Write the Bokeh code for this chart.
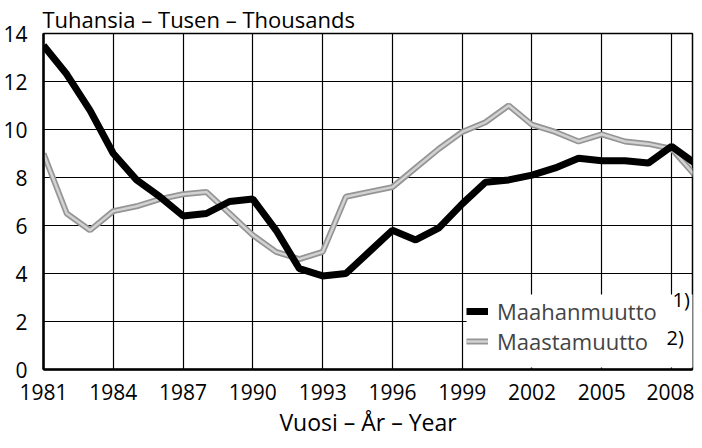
from bokeh.plotting import figure
from bokeh.models import (FixedTicker, Legend, LegendItem, Label, Range1d, BoxAnnotation, Title)
from bokeh.embed import file_html
from bokeh.resources import INLINE

years = list(range(1981, 2010))
maahanmuutto = [13.5, 12.3, 10.8, 9.0, 7.9, 7.2, 6.4, 6.5, 7.0, 7.1, 5.8, 4.2, 3.9, 4.0,
                4.9, 5.8, 5.4, 5.9, 6.9, 7.8, 7.9, 8.1, 8.4, 8.8, 8.7, 8.7, 8.6, 9.3, 8.6]
maastamuutto = [9.0, 6.5, 5.8, 6.6, 6.8, 7.1, 7.3, 7.4, 6.5, 5.6, 4.9, 4.6, 4.9, 7.2,
                7.4, 7.6, 8.4, 9.2, 9.9, 10.3, 11.0, 10.2, 9.9, 9.5, 9.8, 9.5, 9.4, 9.2, 8.1]
x_ticks = [1981, 1984, 1987, 1990, 1993, 1996, 1999, 2002, 2005, 2008]
y_ticks = [0, 2, 4, 6, 8, 10, 12, 14]

FONT = "Open Sans"

p = figure(width=694, height=440, output_backend="svg", toolbar_location=None,
           x_range=Range1d(1981, 2008.9), y_range=Range1d(0, 14),
           min_border_left=41, min_border_right=2, min_border_top=33, min_border_bottom=70)
p.title = Title(text="Tuhansia – Tusen – Thousands", align="left", text_font=FONT,
                text_font_size="22px", text_font_style="normal", text_color="black",
                standoff=0, offset=-1)
p.background_fill_color = "white"
p.border_fill_color = "white"
p.outline_line_color = "black"
p.outline_line_width = 1.5

for ax in (p.xaxis[0], p.yaxis[0]):
    ax.axis_line_color = "black"
    ax.axis_line_width = 2.5
    ax.major_tick_line_color = None
    ax.minor_tick_line_color = None
    ax.major_label_text_font = FONT
    ax.major_label_text_font_size = "21px"
    ax.major_label_text_color = "black"
p.xaxis.ticker = FixedTicker(ticks=x_ticks)
p.yaxis.ticker = FixedTicker(ticks=y_ticks)
p.xaxis.major_label_standoff = 8
p.yaxis.major_label_standoff = 10
p.yaxis.major_label_text_align = "center"
p.xaxis.axis_label = "Vuosi – År – Year"
p.xaxis.axis_label_text_font = FONT
p.xaxis.axis_label_text_font_size = "23px"
p.xaxis.axis_label_text_font_style = "normal"
p.xaxis.axis_label_text_color = "black"
p.xaxis.axis_label_standoff = 3

p.xgrid.ticker = FixedTicker(ticks=x_ticks)
p.ygrid.ticker = FixedTicker(ticks=y_ticks)
for g in (p.xgrid[0], p.ygrid[0]):
    g.grid_line_color = "black"
    g.grid_line_width = 1.2
    g.grid_line_alpha = 1.0

r_out_a = p.line(years, maastamuutto, line_color="#959595", line_width=6)
r_out_b = p.line(years, maastamuutto, line_color="#d2d2d2", line_width=2.5)
r_in = p.line(years, maahanmuutto, line_color="black", line_width=7)

# white patch behind the legend (hides the grid there)
p.add_layout(BoxAnnotation(left=423, right=651, bottom=2, top=75,
                           left_units="screen", right_units="screen",
                           bottom_units="screen", top_units="screen",
                           fill_color="white", fill_alpha=1.0, line_color=None))

legend = Legend(items=[LegendItem(label="Maahanmuutto", renderers=[r_in]),
                       LegendItem(label="Maastamuutto", renderers=[r_out_a, r_out_b])],
                location=(423, 13), padding=4, margin=0, spacing=0,
                glyph_width=22, glyph_height=24, label_height=24, label_standoff=9,
                label_width=192,
                label_text_font=FONT, label_text_font_size="22px",
                background_fill_alpha=0.0, border_line_color=None)
p.add_layout(legend, "center")

def lab(text, x, y, size):
    p.add_layout(Label(x=x, y=y, x_units="screen", y_units="screen", text=text,
                       text_font=FONT, text_font_size=size,
                       text_color="black", text_baseline="alphabetic", text_align="left",
                       level="overlay"))

lab("1)", 629, 70, "20px")
lab("2)", 623, 32, "20px")

open("out.html", "w").write(file_html(p, INLINE))
